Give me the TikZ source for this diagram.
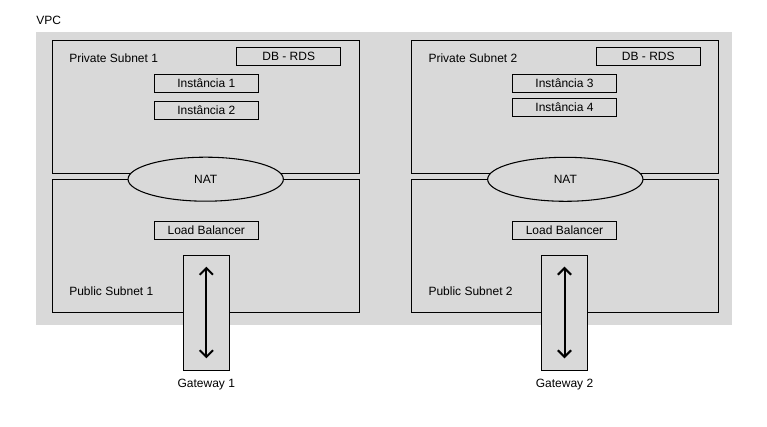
\documentclass[tikz,border=0pt]{standalone}
\usepackage{fontspec}
\setmainfont{Liberation Sans}
\usetikzlibrary{arrows.meta}
\usetikzlibrary{shapes.geometric}

\definecolor{vpcgrey}{RGB}{217,217,217}

\tikzset{
  lbl/.style={font=\fontsize{9}{11}\selectfont, inner sep=0pt},
  svcbox/.style={lbl, draw, fill=vpcgrey, line width=0.8pt, minimum width=78pt, minimum height=13.5pt},
  natoval/.style={lbl, ellipse, draw, fill=vpcgrey, line width=0.8pt, minimum width=116.5pt, minimum height=33pt},
  gwbox/.style={draw, fill=vpcgrey, line width=0.8pt, minimum width=34.5pt, minimum height=86pt, inner sep=0pt},
  gwarrow/.style={line width=1.5pt, {Straight Barb[length=5pt,width=10pt]}-{Straight Barb[length=5pt,width=10pt]}},
}

\begin{document}
\begin{tikzpicture}[x=0.75pt,y=0.75pt,yscale=-1,xscale=1]
\useasboundingbox (0,0) rectangle (767,427);

%Shape: Rectangle [id:vpc] 
\fill [vpcgrey] (36,32) rectangle (731.5,325);
% Text Node
\node [lbl, anchor=west] (vpc) at (36,20) {VPC};

%Shape: Rectangle [id:private subnet 1] 
\draw [fill=vpcgrey, line width=0.8pt] (52.5,40.3) rectangle (359.5,173.5);
%Shape: Rectangle [id:public subnet 1] 
\draw [fill=vpcgrey, line width=0.8pt] (52.5,179.5) rectangle (359.5,312.5);
%Shape: Rectangle [id:private subnet 2] 
\draw [fill=vpcgrey, line width=0.8pt] (411.7,40.3) rectangle (718.3,173.5);
%Shape: Rectangle [id:public subnet 2] 
\draw [fill=vpcgrey, line width=0.8pt] (411.7,179.5) rectangle (718.3,312.5);

% Text Node
\node [lbl, anchor=west] (priv1) at (69,58.7) {Private Subnet 1};
% Text Node
\node [lbl, anchor=west] (pub1) at (69,291.5) {Public Subnet 1};
% Text Node
\node [lbl, anchor=west] (priv2) at (428.3,58.7) {Private Subnet 2};
% Text Node
\node [lbl, anchor=west] (pub2) at (428.3,291.5) {Public Subnet 2};

% Boxes, subnet 1
\node [svcbox] (db1) at (288.7,56.3) {DB - RDS};
\node [svcbox] (inst1) at (206.3,83.3) {Instância 1};
\node [svcbox] (inst2) at (206.3,110.3) {Instância 2};
\node [svcbox] (lb1) at (206.3,230.3) {Load Balancer};

% Boxes, subnet 2
\node [svcbox] (db2) at (648.3,56.7) {DB - RDS};
\node [svcbox] (inst3) at (564.5,83.5) {Instância 3};
\node [svcbox] (inst4) at (564.5,107.2) {Instância 4};
\node [svcbox] (lb2) at (564.5,230.3) {Load Balancer};

%Shape: Ellipse [id:nat] 
\node [natoval] (nat1) at (205.7,179.2) {NAT};
\node [natoval] (nat2) at (565.3,179.3) {NAT};

%Shape: Rectangle [id:gateways] 
\node [gwbox] (gw1) at (206.3,312.9) {};
\node [gwbox] (gw2) at (564.5,312.9) {};
\coordinate (gw1top) at (206.3,266.7);
\coordinate (gw1bot) at (206.3,358.3);
\coordinate (gw2top) at (564.5,266.7);
\coordinate (gw2bot) at (564.5,358.3);
%Straight Lines [id:arrows] 
\draw [gwarrow] (gw1top) -- (gw1bot);
\draw [gwarrow] (gw2top) -- (gw2bot);

% Text Node
\node [lbl] (gw1lbl) at (206.3,384.5) {Gateway 1};
% Text Node
\node [lbl] (gw2lbl) at (564.5,384.5) {Gateway 2};

\end{tikzpicture}
\end{document}
